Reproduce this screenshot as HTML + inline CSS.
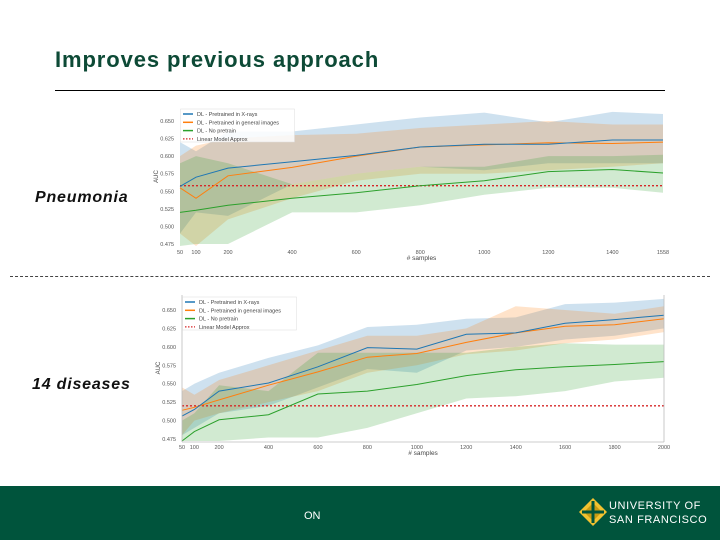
<!DOCTYPE html>
<html><head><meta charset="utf-8"><style>
body{margin:0;width:720px;height:540px;overflow:hidden;background:#fff;font-family:"Liberation Sans",sans-serif;position:relative}
.abs{position:absolute}
</style></head><body>
<div class="abs" style="left:55px;top:47px;font-size:22px;font-weight:bold;color:#0d4a36;letter-spacing:0.9px;white-space:nowrap">Improves previous approach</div>
<div class="abs" style="left:55px;top:90px;width:610px;height:1px;background:#000"></div>
<div class="abs" style="left:35px;top:189px;font-size:16px;font-weight:bold;font-style:italic;color:#111;letter-spacing:0.8px">Pneumonia</div>
<div class="abs" style="left:32px;top:376px;font-size:16px;font-weight:bold;font-style:italic;color:#111;letter-spacing:0.8px">14 diseases</div>
<div class="abs" style="left:10px;top:276px;width:700px;border-top:1px dashed #444"></div>
<svg class="abs" style="left:0;top:0" width="720" height="486" id="charts"></svg>
<div class="abs" style="left:0;top:486px;width:720px;height:54px;background:#00543c"></div>
<div class="abs" style="left:304px;top:510px;font-size:11px;color:#fff">ON</div>
<svg class="abs" style="left:578px;top:497px" width="30" height="30">
<polygon points="15,1 29,15 15,29 1,15" fill="#f2c230"/><polygon points="15,6 24,15 15,24 6,15" fill="#c79b14"/>
<rect x="13.5" y="4" width="3" height="22" fill="#00543c"/><rect x="4" y="13.5" width="22" height="3" fill="#00543c"/></svg>
<div class="abs" style="left:609px;top:499px;font-size:11px;line-height:14px;color:#fff;letter-spacing:0.6px;white-space:nowrap">UNIVERSITY OF<br>SAN FRANCISCO</div>
<script>
// Chart 1: Pneumonia
const x1 = [50,100,200,400,600,800,1000,1200,1400,1558];
const blue1 = [0.557,0.570,0.583,0.592,0.601,0.613,0.617,0.617,0.623,0.623];
const orange1 = [0.555,0.540,0.572,0.584,0.600,0.613,0.616,0.619,0.618,0.620];
const green1 = [0.520,0.523,0.530,0.540,0.548,0.558,0.565,0.578,0.581,0.576];
const blueHi1 = [0.620,0.607,0.635,0.635,0.645,0.655,0.662,0.648,0.663,0.660];
const blueLo1 = [0.490,0.520,0.515,0.560,0.575,0.585,0.580,0.590,0.590,0.590];
const orangeHi1 = [0.600,0.615,0.625,0.630,0.632,0.640,0.645,0.650,0.645,0.645];
const orangeLo1 = [0.490,0.470,0.510,0.540,0.565,0.575,0.575,0.580,0.585,0.590];
const greenHi1 = [0.590,0.600,0.590,0.560,0.575,0.585,0.585,0.600,0.600,0.602];
const greenLo1 = [0.450,0.475,0.475,0.520,0.520,0.530,0.545,0.555,0.555,0.548];
const linear1 = 0.558;
const xTicks1 = [50,100,200,400,600,800,1000,1200,1400,1558];
const yTicks = [0.475,0.500,0.525,0.550,0.575,0.600,0.625,0.650];
// Chart 2: 14 diseases
const x2 = [50,100,200,400,600,800,1000,1200,1400,1600,1800,2000];
const blue2 = [0.506,0.515,0.540,0.551,0.573,0.599,0.597,0.617,0.619,0.632,0.637,0.643];
const orange2 = [0.514,0.518,0.528,0.548,0.566,0.586,0.591,0.606,0.619,0.628,0.630,0.638];
const green2 = [0.470,0.485,0.501,0.508,0.536,0.540,0.549,0.561,0.569,0.573,0.576,0.580];
const blueHi2 = [0.540,0.550,0.565,0.585,0.602,0.627,0.630,0.638,0.640,0.658,0.660,0.665];
const blueLo2 = [0.480,0.490,0.510,0.520,0.545,0.570,0.565,0.595,0.600,0.610,0.615,0.625];
const orangeHi2 = [0.545,0.535,0.555,0.575,0.595,0.615,0.615,0.625,0.655,0.650,0.645,0.655];
const orangeLo2 = [0.480,0.500,0.510,0.525,0.540,0.565,0.575,0.590,0.595,0.605,0.610,0.620];
const greenHi2 = [0.500,0.510,0.548,0.540,0.592,0.592,0.592,0.592,0.600,0.605,0.603,0.603];
const greenLo2 = [0.440,0.450,0.470,0.477,0.477,0.490,0.510,0.530,0.533,0.540,0.553,0.558];
const linear2 = 0.520;
const xTicks2 = [50,100,200,400,600,800,1000,1200,1400,1600,1800,2000];
const legendLabels = ["DL - Pretrained in X-rays","DL - Pretrained in general images","DL - No pretrain","Linear Model Approx"];

const svg = document.getElementById('charts');
const NS = 'http://www.w3.org/2000/svg';
function mk(tag, attrs, parent){const e=document.createElementNS(NS,tag);for(const k in attrs)e.setAttribute(k,attrs[k]);(parent||svg).appendChild(e);return e;}

function drawChart(cfg){
  const g = mk('g',{});
  
  
  const sx = v => cfg.x0 + (v - cfg.xmin)/(cfg.xmax - cfg.xmin)*(cfg.x1 - cfg.x0);
  const sy = v => cfg.yA + (v - 0.650)/(0.475 - 0.650)*(cfg.yB - cfg.yA);
  const clipY = v => Math.max(cfg.top, Math.min(cfg.bottom, sy(v)));
  const bands = [[cfg.bh,cfg.bl,'rgba(31,119,180,0.22)','blue-band'],[cfg.oh,cfg.ol,'rgba(255,127,14,0.22)','orange-band'],[cfg.gh,cfg.gl,'rgba(44,160,44,0.22)','green-band']];
  bands.forEach(b=>{
    let d='';
    cfg.xs.forEach((x,i)=>{d+=(i?'L':'M')+sx(x).toFixed(1)+','+clipY(b[0][i]).toFixed(1);});
    for(let i=cfg.xs.length-1;i>=0;i--) d+='L'+sx(cfg.xs[i]).toFixed(1)+','+clipY(b[1][i]).toFixed(1);
    const p = mk('path',{d:d+'Z',fill:b[2]},g);
    
    
  });
  const lin = mk('line',{x1:cfg.x0,x2:cfg.x1,y1:sy(cfg.lin),y2:sy(cfg.lin),stroke:'#d62728','stroke-width':1.3,'stroke-dasharray':'2,2'},g);
  
  
  const lines = [[cfg.g,'#2ca02c','green-line'],[cfg.o,'#ff7f0e','orange-line'],[cfg.b,'#1f77b4','blue-line']];
  lines.forEach(l=>{
    const pts = cfg.xs.map((x,i)=>sx(x).toFixed(1)+','+clipY(l[0][i]).toFixed(1)).join(' ');
    const pl = mk('polyline',{points:pts,fill:'none',stroke:l[1],'stroke-width':1},g);
    
    
  });
  if(cfg.spines){
    mk('line',{x1:cfg.x0,x2:cfg.x0,y1:cfg.top,y2:cfg.bottom+1,stroke:'#bbb','stroke-width':0.8},g);
    mk('line',{x1:cfg.x1,x2:cfg.x1,y1:cfg.top,y2:cfg.bottom+1,stroke:'#bbb','stroke-width':0.8},g);
    mk('line',{x1:cfg.x0,x2:cfg.x1,y1:cfg.bottom+1,y2:cfg.bottom+1,stroke:'#bbb','stroke-width':0.8},g);
  }
  yTicks.forEach(v=>{
    const t = mk('text',{x:cfg.x0-6,y:sy(v)+2,'font-size':5.5,'text-anchor':'end',fill:'#555'},g);
    t.textContent = v.toFixed(3);
    
    
  });
  cfg.xt.forEach(v=>{
    const t = mk('text',{x:sx(v),y:cfg.bottom+8,'font-size':5.5,'text-anchor':'middle',fill:'#555'},g);
    t.textContent = v;
    
    
  });
  const xl = mk('text',{x:(cfg.x0+cfg.x1)/2,y:cfg.bottom+14,'font-size':6.5,'text-anchor':'middle',fill:'#444'},g);
  xl.textContent = '# samples';
  
  
  const yy = (cfg.top+cfg.bottom)/2;
  const yl = mk('text',{x:cfg.x0-22,y:yy,'font-size':6,'text-anchor':'middle',fill:'#444',transform:'rotate(-90 '+(cfg.x0-22)+' '+yy+')'},g);
  yl.textContent = 'AUC';
  
  
  const lg = mk('g',{},g);
  
  
  mk('rect',{x:cfg.x0+0.5,y:cfg.top+2,width:114,height:33,fill:'rgba(255,255,255,0.85)',stroke:'#ddd','stroke-width':0.5},lg);
  const cols=['#1f77b4','#ff7f0e','#2ca02c','#d62728'];
  legendLabels.forEach((s,i)=>{
    const y = cfg.top+7+i*8.3;
    mk('line',{x1:cfg.x0+3,x2:cfg.x0+13,y1:y,y2:y,stroke:cols[i],'stroke-width':i==3?1.2:1.5,'stroke-dasharray':i==3?'1.5,1.5':''},lg);
    const t = mk('text',{x:cfg.x0+17,y:y+2,'font-size':5.5,fill:'#444'},lg);
    t.textContent = s;
    
    
  });
}
drawChart({name:'pneumonia-chart',xs:x1,xmin:50,xmax:1558,x0:180,x1:663,yA:121,yB:244,top:107,bottom:246,
  b:blue1,o:orange1,g:green1,bh:blueHi1,bl:blueLo1,oh:orangeHi1,ol:orangeLo1,gh:greenHi1,gl:greenLo1,lin:linear1,xt:xTicks1,spines:false});
drawChart({name:'diseases-chart',xs:x2,xmin:50,xmax:2000,x0:182,x1:664,yA:310,yB:439,top:295,bottom:441,
  b:blue2,o:orange2,g:green2,bh:blueHi2,bl:blueLo2,oh:orangeHi2,ol:orangeLo2,gh:greenHi2,gl:greenLo2,lin:linear2,xt:xTicks2,spines:true});
</script>
</body></html>
